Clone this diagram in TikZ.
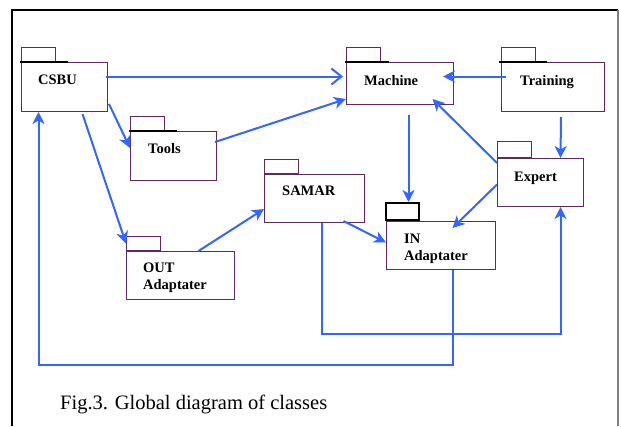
\documentclass[tikz,border=0pt]{standalone}
\usepackage{fontspec}
\setmainfont{Liberation Serif}
\usepackage{xcolor}
\usepackage{tikz}
\usetikzlibrary{arrows.meta,positioning}
\definecolor{pijlblauw}{RGB}{51,102,255}
\definecolor{paars}{RGB}{96,40,96}
\tikzstyle{pakket} = [rectangle, draw=paars, line width=1pt, inner sep=0pt, anchor=north west]
\tikzstyle{tab} = [rectangle, draw=paars, line width=1pt, inner sep=0pt, minimum width=34pt, minimum height=14pt, anchor=south west]
\tikzstyle{naam} = [inner sep=0pt, align=left, font=\bfseries\fontsize{14.5}{17}\selectfont]
\tikzstyle{zwartrand} = [draw, black, line width=1.8pt]
\tikzstyle{line} = [draw, pijlblauw, line width=2pt]
\tikzstyle{pijltje} = [draw, pijlblauw, line width=2pt, -{Stealth[length=12pt,width=12pt,inset=3.5pt]}]
\tikzstyle{pijlopen} = [draw, pijlblauw, line width=2pt, -{Straight Barb[length=10pt,width=16pt]}]

\begin{document}
\begin{tikzpicture}[x=1pt, y=-1pt]
	\useasboundingbox (0,0) rectangle (621,426);
	% frame
	\draw [black, line width=1.8pt] (12,426) -- (12,10) -- (618,10);
	\draw [gray, line width=1.5pt] (618,10) -- (618,426);
	
	
	\node [pakket, minimum width=86pt, minimum height=49pt] (csbu) at (21,62) {};
	\node [pakket, minimum width=86pt, minimum height=49pt] (tools) at (130,131) {};
	\node [pakket, minimum width=100pt, minimum height=48pt] (samar) at (264,174) {};
	\node [pakket, minimum width=107pt, minimum height=42pt] (machine) at (346,62) {};
	\node [pakket, minimum width=103pt, minimum height=49pt] (training) at (501,62) {};
	\node [pakket, minimum width=86pt, minimum height=48pt] (expert) at (497,158) {};
	\node [pakket, minimum width=109pt, minimum height=48pt] (inadapt) at (386,221) {};
	\node [pakket, minimum width=108pt, minimum height=48pt] (outadapt) at (126,251) {};
	
	
	\node [tab] (csbutab) at (csbu.north west) {};
	\node [tab] (toolstab) at (tools.north west) {};
	\node [tab] (samartab) at (samar.north west) {};
	\node [tab] (machinetab) at (machine.north west) {};
	\node [tab] (trainingtab) at (training.north west) {};
	\node [tab, minimum height=16pt] (experttab) at (expert.north west) {};
	\node [tab] (outtab) at (outadapt.north west) {};
	\node [tab, draw=black, line width=2pt, minimum width=33pt, minimum height=17pt] (intab) at ([xshift=-1pt]inadapt.north west) {};
	
	
	\path [zwartrand] ([xshift=-1pt]csbu.north west) -- ++(48,0);
	\path [zwartrand] ([xshift=-1pt]tools.north west) -- ++(48,0);
	\path [zwartrand] ([xshift=-1pt]machine.north west) -- ++(44,0);
	\path [zwartrand] ([xshift=-2pt]training.north west) -- ++(48,0);
	
	
	\node [naam, below right=13pt and 17pt of csbu.north west] (csbunaam) {CSBU};
	\node [naam, below right=12pt and 18pt of tools.north west] (toolsnaam) {Tools};
	\node [naam, below right=12pt and 18pt of samar.north west] (samarnaam) {SAMAR};
	\node [naam, below right=13pt and 18pt of machine.north west] (machinenaam) {Machine};
	\node [naam, below right=13pt and 19pt of training.north west] (trainingnaam) {Training};
	\node [naam, below right=14pt and 17pt of expert.north west] (expertnaam) {Expert};
	\node [naam, below right=13pt and 18pt of inadapt.north west] (innaam) {IN\\Adaptater};
	\node [naam, below right=12pt and 17pt of outadapt.north west] (outnaam) {OUT\\Adaptater};
	
	
	\path [pijlopen] ([xshift=-2pt, yshift=10.5pt]csbu.east) -- ([xshift=-3pt, yshift=7pt]machine.west);
	\path [pijltje] ([shift={(1pt,8pt)}]csbu.south east) -- ([yshift=8pt]tools.west);
	\path [pijltje] ([shift={(-2pt,14pt)}]tools.east) -- ([yshift=6pt]machine.south west);
	\path [pijltje] ([xshift=18pt, yshift=-2pt]csbu.south) -- (outtab.west);
	\path [pijltje] ([xshift=18pt]outadapt.north) -- ([yshift=14pt]samar.south west);
	\path [pijltje] ([xshift=5pt, yshift=10.5pt]training.west) -- ([xshift=-11pt, yshift=7pt]machine.east);
	\path [pijltje] ([xshift=8pt, yshift=-5pt]training.south) -- ([xshift=20pt]expert.north);
	\path [pijltje] ([xshift=8.5pt, yshift=-10pt]machine.south) coordinate (machinevoet) -- (machinevoet |- intab.north);
	\path [pijltje] ([yshift=-5pt]expert.north west) -- ([xshift=32.5pt, yshift=6pt]machine.south);
	\path [pijltje] ([yshift=-2pt]expert.west) -- ([xshift=11.5pt, yshift=-7pt]inadapt.north);
	\path [pijltje] ([xshift=29pt, yshift=2pt]samar.south) -- ([yshift=3pt]inadapt.west);
	
	
	\path [pijltje] ([xshift=7pt]samar.south) -- ++(0,111) -| ([xshift=20pt]expert.south);
	\path [pijltje] ([xshift=11.5pt]inadapt.south) -- ++(0,95) -| ([xshift=-26pt]csbu.south);
	
	
	\node [anchor=base west, inner sep=0pt, font=\fontsize{20.5}{24}\selectfont] (onderschrift) at (60,409) {Fig.3. Global diagram of classes};
\end{tikzpicture}
\end{document}
